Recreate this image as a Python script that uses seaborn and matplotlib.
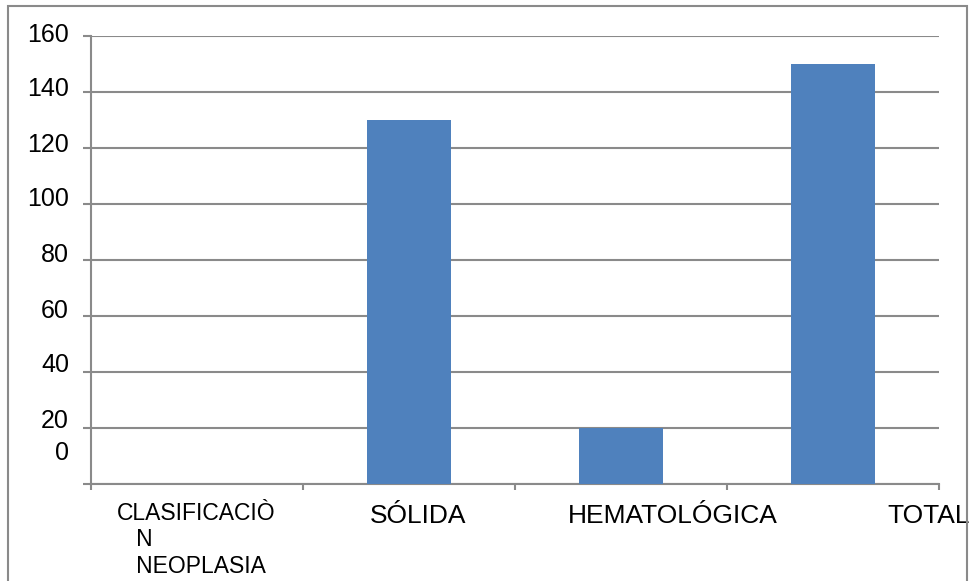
import matplotlib
matplotlib.use("Agg")
import matplotlib.pyplot as plt
import matplotlib.transforms as mtransforms
from matplotlib.patches import Rectangle
import seaborn as sns
import pandas as pd

# Data
categories = ["CLASIFICACIÒN NEOPLASIA", "SÓLIDA", "HEMATOLÓGICA", "TOTAL"]
category_labels = [["CLASIFICACIÒ", "   N", "   NEOPLASIA"], ["SÓLIDA"], ["HEMATOLÓGICA"], ["TOTAL"]]
counts = [0, 130, 20, 150]
y_ticks = [0, 20, 40, 60, 80, 100, 120, 140, 160]

df = pd.DataFrame({"categoria": categories, "casos": counts})

sns.set_theme(style="white")
plt.rcParams["font.family"] = ["Liberation Sans", "DejaVu Sans"]

W, H, DPI = 976, 581, 100
fig = plt.figure(figsize=(W / DPI, H / DPI), dpi=DPI)
ax = fig.add_axes([91 / W, 1 - 484 / H, (939 - 91) / W, (484 - 36) / H])

bar_color = "#4F81BD"
grid_color = "#8a8a8a"

sns.barplot(data=df, x="categoria", y="casos", color=bar_color, width=0.4,
            saturation=1, linewidth=0, ax=ax, zorder=3)

ax.set_xlim(-0.5, len(categories) - 0.5)
ax.set_ylim(0, 160)
ax.set_xlabel("")
ax.set_ylabel("")

# Horizontal gridlines
ax.set_yticks(y_ticks)
ax.yaxis.grid(True, color=grid_color, linewidth=1.5, zorder=0)
ax.set_axisbelow(True)

for side in ["top", "right"]:
    ax.spines[side].set_visible(False)
for side in ["left", "bottom"]:
    ax.spines[side].set_color(grid_color)
    ax.spines[side].set_linewidth(1.5)

# Y tick labels, nudged upward as in the original layout
ax.set_yticklabels([str(v) for v in y_ticks], fontsize=18, color="black")
ax.tick_params(axis="y", left=True, length=5.8, width=1.5, color=grid_color, pad=10)
y_nudge_px = [33, 10, 10, 7, 7, 8, 5, 5, 3]
for lab, dy in zip(ax.get_yticklabels(), y_nudge_px):
    lab.set_transform(lab.get_transform() +
                      mtransforms.ScaledTranslation(0, dy / DPI, fig.dpi_scale_trans))

# X axis: boundary tick marks between categories, labels as text
ax.set_xticks([i - 0.5 for i in range(len(categories) + 1)])
ax.set_xticklabels([])
ax.tick_params(axis="x", bottom=True, length=4.5, width=1.5, color=grid_color,
               direction="out")

x_shift_px = [-80, -39, -53, 54]
first_baseline_px = [36, 39, 39, 39]
line_step_px = 26.5
sizes = [16.5, 19, 19, 19]
for i, (lines, dx, dy0, fs) in enumerate(zip(category_labels, x_shift_px,
                                             first_baseline_px, sizes)):
    for k, line in enumerate(lines):
        tr = ax.get_xaxis_transform() + mtransforms.ScaledTranslation(
            dx / DPI, -(dy0 + k * line_step_px) / DPI, fig.dpi_scale_trans)
        ax.text(i, 0, line, transform=tr, ha="left", va="baseline", fontsize=fs,
                color="black", clip_on=False)

# Outer chart frame
fig.patches.append(Rectangle((8 / W, -0.1), (967 - 8) / W, 1.1 - 6 / H,
                             transform=fig.transFigure, fill=False,
                             edgecolor=grid_color, linewidth=1.5))

fig.savefig("out.png", dpi=DPI, facecolor="white")
